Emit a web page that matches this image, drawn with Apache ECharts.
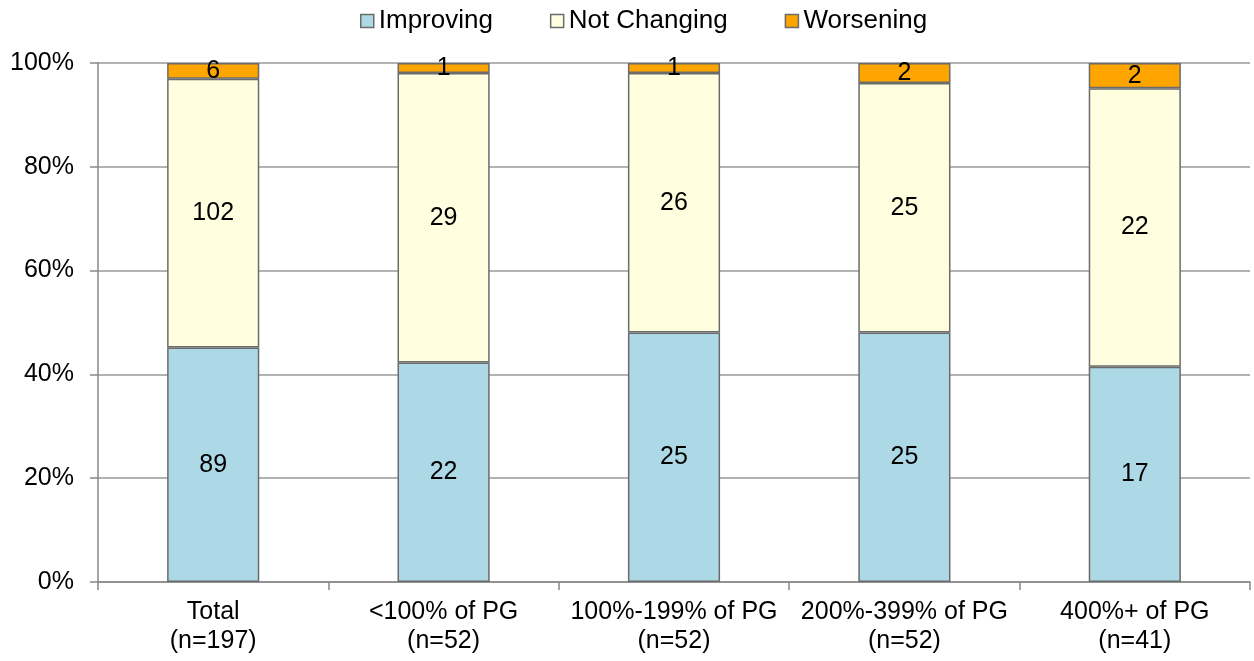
<!DOCTYPE html>
<html><head><meta charset="utf-8">
<script src="https://cdn.jsdelivr.net/npm/echarts@6/dist/echarts.min.js"></script>
<style>html,body{margin:0;padding:0;background:#fff}#c{width:1254px;height:661px}</style>
</head><body><div id="c"></div>
<script>
const categories = ['Total\n(n=197)', '<100% of PG\n(n=52)', '100%-199% of PG\n(n=52)', '200%-399% of PG\n(n=52)', '400%+ of PG\n(n=41)'];
const improving = [89, 22, 25, 25, 17];
const notChanging = [102, 29, 26, 25, 22];
const worsening = [6, 1, 1, 2, 2];
const yTicks = ['0%', '20%', '40%', '60%', '80%', '100%'];

const totals = categories.map((c, i) => improving[i] + notChanging[i] + worsening[i]);
const pct = arr => arr.map((v, i) => ({ value: v / totals[i] * 100, count: v }));

const font = 'Liberation Sans, Arial, sans-serif';
const mk = (name, arr, color) => ({
  name, type: 'bar', stack: 's', barWidth: '40%',
  data: pct(arr),
  itemStyle: { color, borderColor: '#6b6b6b', borderWidth: 1.5 },
  label: { show: true, position: 'inside', color: '#000', fontFamily: font, fontSize: 25,
    formatter: p => p.data.count }
});

const chart = echarts.init(document.getElementById('c'));
chart.setOption({
  animation: false,
  textStyle: { fontFamily: font },
  legend: {
    top: 3, left: 355, itemWidth: 13, itemHeight: 13, itemGap: 57, icon: 'rect',
    textStyle: { fontFamily: font, fontSize: 26, color: '#000' },
    data: ['Improving', 'Not Changing', 'Worsening'].map(n => ({ name: n, itemStyle: { borderColor: '#6b6b6b', borderWidth: 1.5 } }))
  },
  grid: { left: 98, right: 4, top: 63, bottom: 79, containLabel: false },
  xAxis: {
    type: 'category', data: categories, boundaryGap: true,
    axisLine: { lineStyle: { color: '#888', width: 1.5 } },
    axisTick: { show: true, alignWithLabel: false, length: 8, lineStyle: { color: '#888', width: 1.5 } },
    axisLabel: { interval: 0, color: '#000', fontFamily: font, fontSize: 25, lineHeight: 29, margin: 16 }
  },
  yAxis: {
    type: 'value', min: 0, max: 100, interval: 20,
    axisLine: { show: true, lineStyle: { color: '#888', width: 1.5 } },
    axisTick: { show: true, length: 8, lineStyle: { color: '#888', width: 1.5 } },
    splitLine: { show: true, lineStyle: { color: '#999', width: 1.5 } },
    axisLabel: { color: '#000', fontFamily: font, fontSize: 25, margin: 24,
      formatter: v => yTicks[Math.round(v / 20)] }
  },
  series: [
    mk('Improving', improving, '#ADD8E6'),
    mk('Not Changing', notChanging, '#FFFFE0'),
    mk('Worsening', worsening, '#FFA500')
  ]
});
</script></body></html>
